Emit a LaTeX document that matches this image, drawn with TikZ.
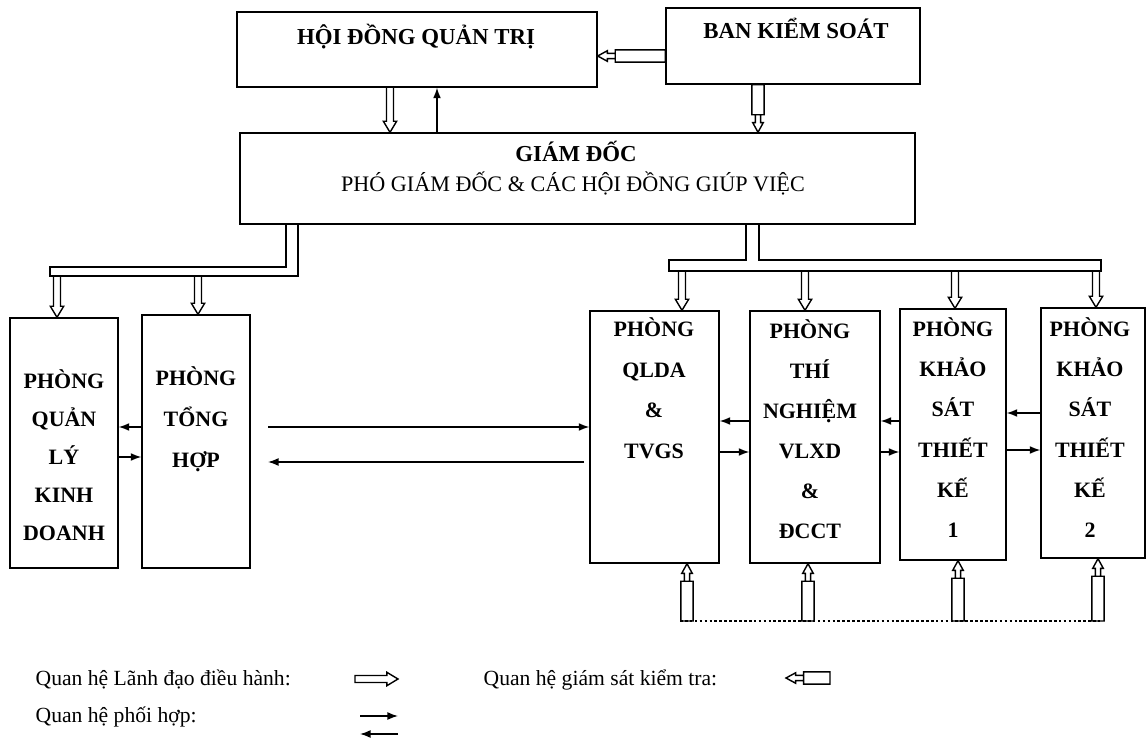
\documentclass[tikz,border=0pt]{standalone}
\usepackage{fontspec}
\setmainfont{Liberation Serif}
\usetikzlibrary{arrows.meta,calc}

\begin{document}
\begin{tikzpicture}[x=0.02cm, y=-0.02cm, line width=0.8pt,
        unit/.style={draw, rectangle, inner sep=0pt},
        title/.style={font=\bfseries\fontsize{13}{15}\selectfont, anchor=base, inner sep=0pt},
        lbl/.style={font=\bfseries\fontsize{12.5}{15}\selectfont, anchor=base, inner sep=0pt},
        plain/.style={font=\fontsize{12.3}{15}\selectfont, anchor=base, inner sep=0pt},
        note/.style={plain, anchor=base west},
        bar/.style={draw, rectangle, inner sep=0pt},
        coop/.style={-{Latex[length=6pt, width=4.5pt]}},
        lead/.style={to path={
            ($(\tikztostart)!2pt!90:(\tikztotarget)$)
            -- ($(\tikztotarget)!6.3pt!(\tikztostart)!2pt!-90:(\tikztostart)$)
            -- ($(\tikztotarget)!6.3pt!(\tikztostart)!3.8pt!-90:(\tikztostart)$)
            -- (\tikztotarget)
            -- ($(\tikztotarget)!6.3pt!(\tikztostart)!3.8pt!90:(\tikztostart)$)
            -- ($(\tikztotarget)!6.3pt!(\tikztostart)!2pt!90:(\tikztostart)$)
            -- ($(\tikztostart)!2pt!-90:(\tikztotarget)$)}},
        check/.style={to path={
            ($(\tikztostart)!3.5pt!90:(\tikztotarget)$)
            -- ($(\tikztotarget)!10pt!(\tikztostart)!3.5pt!-90:(\tikztostart)$)
            -- ($(\tikztotarget)!10pt!(\tikztostart)!3.5pt!90:(\tikztostart)$)
            -- ($(\tikztostart)!3.5pt!-90:(\tikztotarget)$) -- cycle
            ($(\tikztotarget)!10pt!(\tikztostart)!1.5pt!-90:(\tikztostart)$)
            -- ($(\tikztotarget)!5.5pt!(\tikztostart)!1.5pt!-90:(\tikztostart)$)
            -- ($(\tikztotarget)!5.5pt!(\tikztostart)!3pt!-90:(\tikztostart)$)
            -- (\tikztotarget)
            -- ($(\tikztotarget)!5.5pt!(\tikztostart)!3pt!90:(\tikztostart)$)
            -- ($(\tikztotarget)!5.5pt!(\tikztostart)!1.5pt!90:(\tikztostart)$)
            -- ($(\tikztotarget)!10pt!(\tikztostart)!1.5pt!90:(\tikztostart)$)}}
    ]
        \useasboundingbox (0,0) rectangle (1147,740);

        % top level
        \node[unit, minimum width=7.2cm, minimum height=1.5cm] (hdqt) at (417,49.5) {};
        \node[unit, minimum width=5.08cm, minimum height=1.52cm] (bks) at (793,46) {};
        \node[unit, minimum width=13.5cm, minimum height=1.82cm] (gd) at (577.5,178.5) {};
        \node[title] (hdqt-t) at (416,45) {HỘI ĐỒNG QUẢN TRỊ};
        \node[title] (bks-t) at (796,39) {BAN KIỂM SOÁT};
        \node[title] (gd-1) at (576,162) {GIÁM ĐỐC};
        \node[plain, font=\fontsize{12.6}{15}\selectfont] (gd-2) at (573,192) {PHÓ GIÁM ĐỐC \& CÁC HỘI ĐỒNG GIÚP VIỆC};

        \draw (390,0 |- hdqt.south) to[lead] (390,0 |- gd.north);
        \draw[coop] (437,0 |- gd.north) -- (437,0 |- hdqt.south);
        \draw (bks.west |- 0,56) to[check] (hdqt.east |- 0,56);
        \draw (758,0 |- bks.south) to[check] (758,0 |- gd.north);

        % departments
        \node[unit, minimum width=2.16cm, minimum height=5cm] (qlkd) at (64,443) {};
        \node[unit, minimum width=2.16cm, minimum height=5.06cm] (th) at (196,441.5) {};
        \node[unit, minimum width=2.58cm, minimum height=5.04cm] (qlda) at (654.5,437) {};
        \node[unit, minimum width=2.6cm, minimum height=5.04cm] (tn) at (815,437) {};
        \node[unit, minimum width=2.12cm, minimum height=5.02cm] (ks1) at (953,434.5) {};
        \node[unit, minimum width=2.08cm, minimum height=5cm] (ks2) at (1093,433) {};

        \foreach \t [count=\i] in {PHÒNG,QUẢN,LÝ,KINH,DOANH}
            \node[lbl] (qlkd-\i) at (64,350+38*\i) {\t};
        \foreach \t [count=\i] in {PHÒNG,TỔNG,HỢP}
            \node[lbl] (th-\i) at (196,344+41*\i) {\t};
        \foreach \t [count=\i] in {PHÒNG,QLDA,\&,TVGS}
            \node[lbl] (qlda-\i) at (654,296+40.5*\i) {\t};
        \foreach \t [count=\i] in {PHÒNG,THÍ,NGHIỆM,VLXD,\&,ĐCCT}
            \node[lbl] (tn-\i) at (810,298+40*\i) {\t};
        \foreach \t [count=\i] in {PHÒNG,KHẢO,SÁT,THIẾT,KẾ,1}
            \node[lbl] (ks1-\i) at (953,296+40.3*\i) {\t};
        \foreach \t [count=\i] in {PHÒNG,KHẢO,SÁT,THIẾT,KẾ,2}
            \node[lbl] (ks2-\i) at (1090,296+40.3*\i) {\t};

        % buses
        \node[bar, minimum width=4.96cm, minimum height=0.18cm] (lbar) at (174,271.5) {};
        \node[bar, minimum width=8.64cm, minimum height=0.22cm] (rbar) at (885,265.5) {};
        \fill[white] (287,0 |- lbar.north) rectangle (297,0 |- lbar.center);
        \draw (286,0 |- gd.south) -- (286,0 |- lbar.north) (298,0 |- gd.south) -- (298,0 |- lbar.south);
        \fill[white] (747,0 |- rbar.north) rectangle (758,0 |- rbar.center);
        \draw (746,0 |- gd.south) -- (746,0 |- rbar.north) (759,0 |- gd.south) -- (759,0 |- rbar.north);

        \foreach \x/\d in {57/qlkd, 198/th}
            \draw (\x,0 |- lbar.south) to[lead] (\x,0 |- \d.north);
        \foreach \x/\d in {682/qlda, 805/tn, 955/ks1, 1096/ks2}
            \draw (\x,0 |- rbar.south) to[lead] (\x,0 |- \d.north);

        % coordination
        \draw[coop] (th.west |- 0,427) -- (qlkd.east |- 0,427);
        \draw[coop] (qlkd.east |- 0,457) -- (th.west |- 0,457);
        \coordinate (go) at (268,427);
        \coordinate (back) at (268,462);
        \draw[coop] (go) -- (qlda.west |- go);
        \draw[coop, shorten <=3pt] (qlda.west |- back) -- (back);
        \draw[coop] (tn.west |- 0,421) -- (qlda.east |- 0,421);
        \draw[coop] (qlda.east |- 0,452) -- (tn.west |- 0,452);
        \draw[coop] (ks1.west |- 0,421) -- (tn.east |- 0,421);
        \draw[coop] (tn.east |- 0,452) -- (ks1.west |- 0,452);
        \draw[coop] (ks2.west |- 0,413) -- (ks1.east |- 0,413);
        \draw[coop] (ks1.east |- 0,450) -- (ks2.west |- 0,450);

        % supervision from below
        \coordinate (dotl) at (680,621);
        \coordinate (dotr) at (1100,621);
        \draw[line width=1.7pt, dash pattern=on 1.5pt off 1.3pt] (dotl) -- (dotr);
        \foreach \x/\d in {687/qlda, 808/tn, 958/ks1, 1098/ks2}
            \draw (\x,0 |- dotl) to[check] (\x,0 |- \d.south);

        % legend
        \node[note] (l1) at (35,685) {Quan hệ Lãnh đạo điều hành:};
        \coordinate (l1a) at (355,679);
        \coordinate (l1b) at (398,679);
        \draw (l1a) to[lead] (l1b) -- cycle;
        \node[note] (l2) at (483,685) {Quan hệ giám sát kiểm tra:};
        \coordinate (l2a) at (830,678);
        \coordinate (l2b) at (786,678);
        \draw (l2a) to[check] (l2b);
        \node[note] (l3) at (35,722) {Quan hệ phối hợp:};
        \coordinate (l3a) at (360,716);
        \coordinate (l3b) at (398,716);
        \coordinate (l3c) at (398,734);
        \coordinate (l3d) at (360,734);
        \draw[coop] (l3a) -- (l3b);
        \draw[coop] (l3c) -- (l3d);
    \end{tikzpicture}
\end{document}
